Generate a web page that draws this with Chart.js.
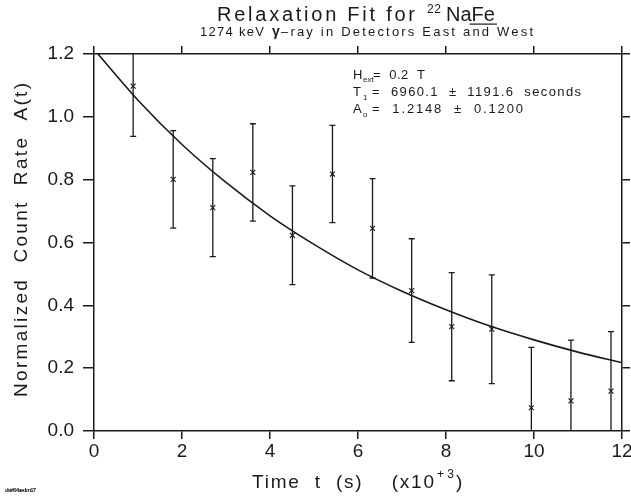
<!DOCTYPE html>
<html>
<head>
<meta charset="utf-8">
<script src="https://cdn.jsdelivr.net/npm/chart.js@4.4.1/dist/chart.umd.min.js"></script>
<style>
  html, body { margin: 0; padding: 0; background: #fff; }
  #canvasBox { width: 631px; height: 496px; }
</style>
</head>
<body>
<div id="canvasBox"><canvas id="relaxChart"></canvas></div>
<script>
// measured points, time in units of 10^3 s
const timeValues = [0.89, 1.80, 2.70, 3.61, 4.51, 5.42, 6.33, 7.22, 8.13, 9.04, 9.94, 10.84, 11.75];
const countRates = [1.098, 0.801, 0.711, 0.823, 0.623, 0.818, 0.645, 0.447, 0.332, 0.324, 0.074, 0.096, 0.127];
const rateErrors = [0.160, 0.155, 0.156, 0.155, 0.157, 0.155, 0.158, 0.165, 0.172, 0.173, 0.192, 0.193, 0.189];

// fit curve
const fitTimes = [0, 1, 2, 3, 4, 5, 6, 7, 8, 9, 10, 11, 12];
const fitRates = [1.215, 1.053, 0.912, 0.791, 0.685, 0.594, 0.513, 0.445, 0.386, 0.334, 0.290, 0.251, 0.217];

const xTicks = [0, 2, 4, 6, 8, 10, 12];
const yTicks = [0.0, 0.2, 0.4, 0.6, 0.8, 1.0, 1.2];

const INK = '#1a1a1a';
const FONT = '"Liberation Sans", Arial, sans-serif';

function spanText(ctx, text, x0, x1, y, font) {
  ctx.font = font;
  ctx.letterSpacing = '0px';
  const w = ctx.measureText(text).width;
  const ls = text.length > 1 ? (x1 - x0 - w) / (text.length - 1) : 0;
  ctx.letterSpacing = ls + 'px';
  ctx.textAlign = 'left';
  ctx.fillText(text, x0, y);
  ctx.letterSpacing = '0px';
}

const errorBars = {
  id: 'errorBars',
  afterDatasetsDraw(chart) {
    const { ctx, chartArea, scales } = chart;
    ctx.save();
    ctx.beginPath();
    ctx.rect(chartArea.left, chartArea.top, chartArea.right - chartArea.left, chartArea.bottom - chartArea.top);
    ctx.clip();
    ctx.strokeStyle = INK;
    ctx.lineWidth = 1.3;
    timeValues.forEach((t, i) => {
      const x = scales.x.getPixelForValue(t);
      const yHi = scales.y.getPixelForValue(countRates[i] + rateErrors[i]);
      const yLo = scales.y.getPixelForValue(countRates[i] - rateErrors[i]);
      ctx.beginPath();
      ctx.moveTo(x, yHi); ctx.lineTo(x, yLo);
      ctx.moveTo(x - 3, yHi); ctx.lineTo(x + 3, yHi);
      ctx.moveTo(x - 3, yLo); ctx.lineTo(x + 3, yLo);
      ctx.stroke();
    });
    ctx.restore();
  }
};

const labels = {
  id: 'labels',
  afterDraw(chart) {
    const ctx = chart.ctx;
    ctx.save();
    ctx.fillStyle = INK;
    ctx.textBaseline = 'alphabetic';

    // title
    spanText(ctx, 'Relaxation Fit for', 217, 415, 21, `20px ${FONT}`);
    spanText(ctx, '22', 427, 441, 13, `12px ${FONT}`);
    ctx.font = `20px ${FONT}`;
    ctx.fillText('Na', 446, 21);
    const naW = ctx.measureText('Na').width;
    const feW = ctx.measureText('Fe').width;
    ctx.fillText('Fe', 446 + naW, 21);
    ctx.fillRect(446 + naW - 2, 23.5, feW + 4, 1.2);

    // subtitle
    spanText(ctx, '1274 keV', 200, 264, 36, `13px ${FONT}`);
    spanText(ctx, 'γ', 272, 280, 36, `bold 14px ${FONT}`);
    spanText(ctx, '–ray in Detectors East and West', 281, 533, 36, `13px ${FONT}`);

    // fit parameters
    ctx.font = `13px ${FONT}`;
    ctx.fillText('H', 353, 79);
    ctx.font = `8px ${FONT}`;
    ctx.fillText('ext', 363, 82);
    spanText(ctx, '=  0.2  T', 373, 425, 79, `13px ${FONT}`);
    ctx.font = `13px ${FONT}`;
    ctx.fillText('T', 353, 96);
    ctx.font = `8px ${FONT}`;
    ctx.fillText('1', 363, 100);
    spanText(ctx, '=  6960.1  ±  1191.6  seconds', 372, 581, 96, `13px ${FONT}`);
    ctx.font = `13px ${FONT}`;
    ctx.fillText('A', 353, 113);
    ctx.font = `8px ${FONT}`;
    ctx.fillText('o', 363, 117);
    spanText(ctx, '=  1.2148  ±  0.1200', 372, 523, 113, `13px ${FONT}`);

    // x axis title
    spanText(ctx, 'Time  t  (s)    (x10', 252, 434, 488, `19px ${FONT}`);
    spanText(ctx, '+3', 437, 454, 478, `12px ${FONT}`);
    spanText(ctx, ')', 456, 463, 488, `19px ${FONT}`);

    // y axis title
    ctx.translate(27, 240);
    ctx.rotate(-Math.PI / 2);
    spanText(ctx, 'Normalized  Count  Rate  A(t)', -157, 157, 0, `19px ${FONT}`);
    ctx.setTransform(1, 0, 0, 1, 0, 0);

    // file tag
    spanText(ctx, 'dst#04aed.m17', 5, 36, 492, `bold 6px ${FONT}`);
    ctx.restore();
  }
};

const tickFont = { family: FONT, size: 19 };
const axisLine = { display: true, color: INK, width: 1.5 };
const noEdgePad = s => { s.paddingLeft = 0; s.paddingRight = 0; s.paddingTop = 0; s.paddingBottom = 0; };

new Chart(document.getElementById('relaxChart'), {
  type: 'scatter',
  data: {
    datasets: [{
      data: timeValues.map((t, i) => ({ x: t, y: countRates[i] })),
      pointStyle: 'crossRot',
      pointRadius: 3.5,
      borderColor: INK,
      borderWidth: 1.1,
      showLine: false,
    }, {
      data: fitTimes.map((t, i) => ({ x: t, y: fitRates[i] })),
      showLine: true,
      pointRadius: 0,
      borderColor: INK,
      borderWidth: 1.6,
      cubicInterpolationMode: 'monotone',
    }]
  },
  options: {
    responsive: true,
    maintainAspectRatio: false,
    animation: false,
    events: [],
    layout: { padding: { top: 46, right: 1, left: 0, bottom: 0 } },
    plugins: { legend: { display: false }, tooltip: { enabled: false } },
    scales: {
      x: {
        type: 'linear', position: 'bottom', min: 0, max: 12,
        afterBuildTicks: s => { s.ticks = xTicks.map(v => ({ value: v })); },
        ticks: { font: tickFont, color: INK, padding: 1, maxRotation: 0, callback: v => String(v) },
        grid: { drawOnChartArea: false, tickLength: 8, color: INK, lineWidth: 1.5 },
        border: axisLine,
        afterFit: s => { s.height = 65; noEdgePad(s); },
      },
      x2: {
        type: 'linear', position: 'top', min: 0, max: 12,
        afterBuildTicks: s => { s.ticks = xTicks.map(v => ({ value: v })); },
        ticks: { display: false },
        grid: { drawOnChartArea: false, tickLength: 8, color: INK, lineWidth: 1.5 },
        border: axisLine,
        afterFit: s => { s.height = 8; noEdgePad(s); },
      },
      y: {
        type: 'linear', position: 'left', min: 0, max: 1.2,
        afterBuildTicks: s => { s.ticks = yTicks.map(v => ({ value: v })); },
        ticks: { font: tickFont, color: INK, padding: 9, callback: v => v.toFixed(1) },
        grid: { drawOnChartArea: false, tickLength: 11, color: INK, lineWidth: 1.5 },
        border: axisLine,
        afterFit: s => { s.width = 94; noEdgePad(s); },
      },
      y2: {
        type: 'linear', position: 'right', min: 0, max: 1.2,
        afterBuildTicks: s => { s.ticks = yTicks.map(v => ({ value: v })); },
        ticks: { display: false },
        grid: { drawOnChartArea: false, tickLength: 8, color: INK, lineWidth: 1.5 },
        border: axisLine,
        afterFit: s => { s.width = 8; noEdgePad(s); },
      }
    }
  },
  plugins: [errorBars, labels]
});
</script>
</body>
</html>
